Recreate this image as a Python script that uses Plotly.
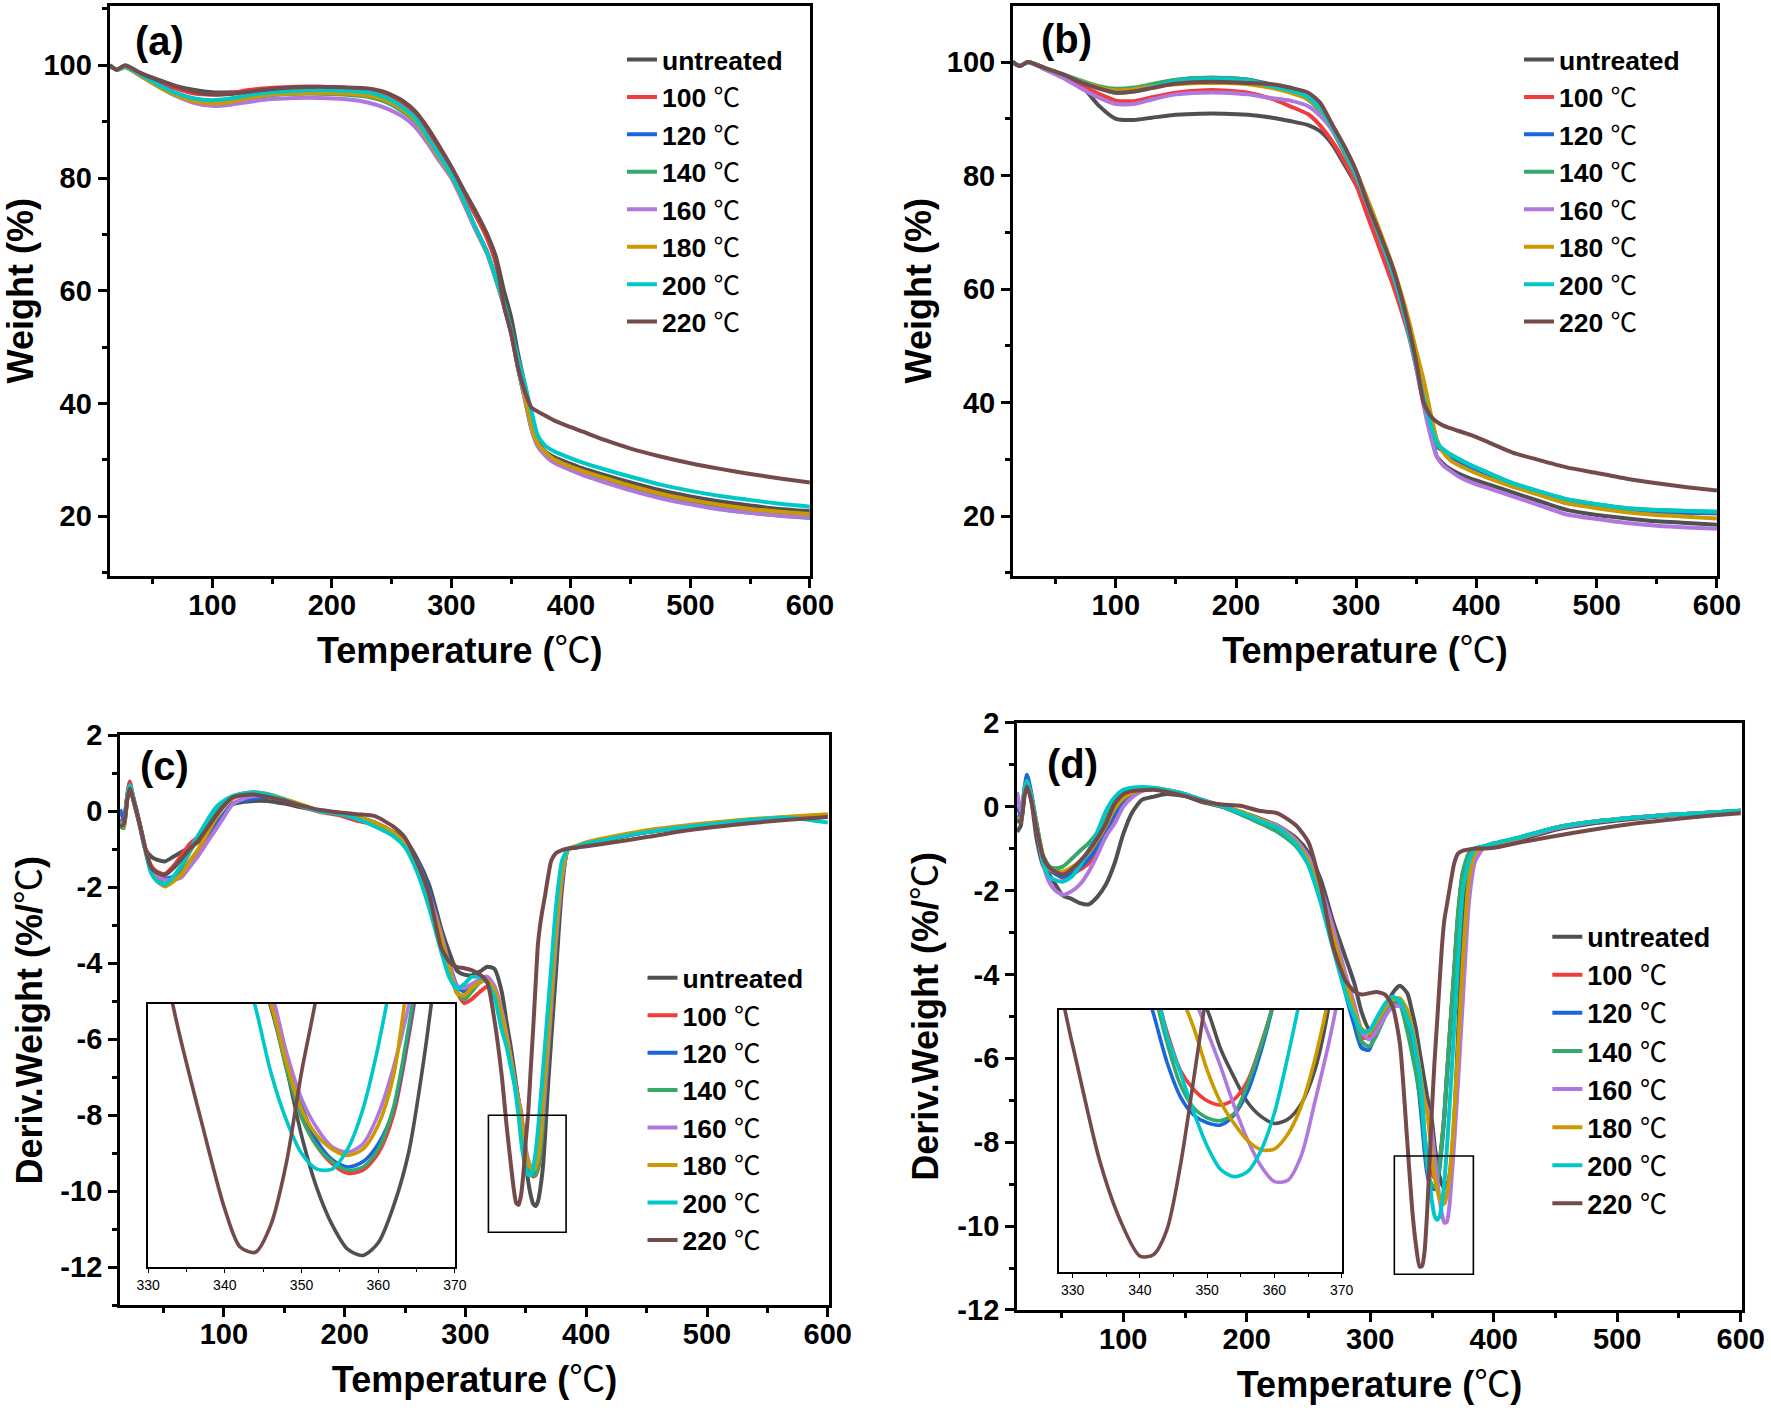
import plotly.graph_objects as go

# ---------------- data ----------------
SERIES = ["untreated", "100", "120", "140", "160", "180", "200", "220"]
COLORS = ["#505050", "#F03C3C", "#1A66DD", "#35A86A", "#B077DE", "#CC9900", "#00C8C8", "#744A4A"]

# TGA temperature grid (panels a, b)
T_TG = [14, 20, 27, 40, 55, 70, 85, 100, 115, 130, 150, 170, 190, 210, 230, 245, 260, 270, 280, 290,
        300, 310, 320, 330, 337, 344, 350, 356, 362, 367, 372, 378, 385, 395, 410, 430, 450, 475, 500,
        525, 550, 575, 600]

a_untreated = [100.0, 99.2, 99.9, 98.6, 97.4, 96.3, 95.6, 95.2, 95.2, 95.4, 95.7, 95.9, 96.0, 95.9, 95.6,
               94.8, 93.0, 91.0, 88.0, 85.0, 81.5, 77.5, 73.5, 69.6, 66.2, 60.0, 55.3, 48.6, 42.8, 37.5,
               33.8, 31.6, 30.6, 29.7, 28.5, 27.2, 26.0, 24.6, 23.5, 22.6, 21.9, 21.3, 20.9]
a_100 = [100.0, 99.2, 99.8, 98.4, 97.0, 95.8, 95.0, 94.8, 95.0, 95.6, 96.0, 96.2, 96.2, 96.0, 95.7,
         94.7, 92.7, 90.8, 87.6, 84.5, 81.3, 77.3, 73.5, 69.2, 65.0, 57.5, 52.6, 46.2, 40.5, 35.8,
         33.0, 31.5, 30.2, 29.2, 28.0, 26.6, 25.4, 24.0, 22.9, 22.0, 21.3, 20.7, 20.2]
a_120 = [100.0, 99.2, 99.7, 98.2, 96.5, 95.0, 94.0, 93.6, 93.8, 94.3, 94.8, 95.0, 95.0, 94.9, 94.5,
         93.6, 91.8, 90.0, 86.8, 83.5, 80.3, 76.0, 71.2, 66.8, 62.3, 57.5, 52.6, 46.2, 40.5, 35.8,
         33.0, 31.5, 30.2, 29.2, 27.9, 26.5, 25.2, 23.8, 22.7, 21.8, 21.1, 20.6, 20.2]
a_140 = [100.0, 99.2, 99.7, 98.2, 96.4, 94.9, 93.9, 93.5, 93.7, 94.2, 94.7, 95.0, 95.0, 94.8, 94.4,
         93.5, 91.7, 90.0, 86.7, 83.4, 80.2, 75.8, 71.0, 66.6, 62.2, 57.4, 52.5, 46.0, 40.3, 35.5,
         32.6, 31.0, 29.7, 28.7, 27.4, 26.0, 24.7, 23.3, 22.2, 21.3, 20.6, 20.1, 19.7]
a_160 = [100.0, 99.2, 99.7, 98.1, 96.2, 94.5, 93.3, 92.8, 93.0, 93.5, 94.0, 94.2, 94.2, 94.0, 93.4,
         92.4, 90.8, 89.0, 86.2, 83.0, 80.0, 75.6, 70.9, 66.5, 62.1, 57.3, 52.4, 46.0, 40.3, 35.5,
         32.5, 30.9, 29.6, 28.6, 27.3, 25.9, 24.6, 23.2, 22.1, 21.2, 20.6, 20.1, 19.8]
a_180 = [100.0, 99.2, 99.7, 98.1, 96.2, 94.6, 93.6, 93.2, 93.5, 94.2, 94.8, 95.0, 95.1, 95.0, 94.6,
         93.8, 92.0, 90.2, 86.9, 83.6, 80.3, 76.0, 71.2, 66.8, 62.3, 57.6, 52.7, 46.4, 40.8, 36.0,
         33.0, 31.5, 30.2, 29.2, 28.0, 26.7, 25.4, 24.0, 22.9, 22.0, 21.3, 20.8, 20.4]
a_200 = [100.0, 99.2, 99.8, 98.3, 96.5, 95.0, 94.1, 93.8, 94.1, 94.7, 95.2, 95.5, 95.6, 95.5, 95.2,
         94.3, 92.4, 90.6, 87.3, 84.0, 80.6, 76.2, 71.3, 66.8, 62.3, 57.8, 53.0, 47.8, 43.0, 38.6,
         34.5, 32.6, 31.6, 30.7, 29.5, 28.2, 27.0, 25.6, 24.5, 23.6, 22.9, 22.2, 21.7]
a_220 = [100.0, 99.2, 100.0, 98.6, 97.3, 96.2, 95.3, 94.8, 94.9, 95.3, 95.8, 96.1, 96.2, 96.1, 95.9,
         95.2, 93.6, 91.8, 89.0, 85.6, 82.0, 78.0, 74.2, 70.0, 66.0, 57.3, 52.5, 46.2, 41.8, 39.3,
         38.6, 37.9, 37.1, 36.2, 35.0, 33.4, 32.0, 30.6, 29.4, 28.4, 27.5, 26.7, 26.0]

b_untreated = [100.0, 99.3, 100.0, 99.0, 97.8, 96.2, 92.5, 90.0, 89.8, 90.2, 90.7, 90.9, 90.9, 90.7, 90.2,
               89.6, 88.9, 87.8, 85.5, 82.0, 78.3, 74.0, 68.0, 62.0, 57.5, 52.5, 47.0, 40.5, 34.5, 30.5,
               29.3, 28.3, 27.5, 26.6, 25.6, 24.2, 22.8, 21.1, 20.2, 19.6, 19.1, 18.8, 18.5]
b_100 = [100.0, 99.3, 100.0, 98.9, 97.6, 96.0, 94.5, 93.2, 93.1, 93.8, 94.6, 95.0, 95.0, 94.6, 93.5,
         92.2, 90.8, 88.8, 86.0, 82.5, 78.3, 72.5, 66.8, 61.0, 56.5, 51.5, 46.0, 40.0, 35.0, 32.5,
         31.5, 30.6, 29.6, 28.4, 26.9, 25.3, 24.0, 22.3, 21.6, 21.1, 20.8, 20.6, 20.5]
b_120 = [100.0, 99.3, 100.0, 99.0, 97.8, 96.6, 95.5, 95.0, 95.3, 96.0, 96.8, 97.2, 97.2, 96.9, 96.0,
         95.0, 93.4, 91.5, 88.2, 84.2, 79.8, 74.5, 68.9, 63.0, 58.0, 52.0, 46.5, 40.5, 35.0, 32.3,
         31.5, 30.6, 29.6, 28.4, 26.9, 25.3, 24.0, 22.3, 21.6, 21.1, 20.8, 20.6, 20.5]
b_140 = [100.0, 99.3, 100.0, 99.0, 97.9, 96.8, 95.8, 95.3, 95.5, 96.1, 96.9, 97.2, 97.2, 96.9, 95.8,
         94.8, 93.4, 91.3, 88.0, 84.0, 79.6, 74.3, 68.9, 63.0, 58.0, 52.0, 46.5, 40.5, 35.0, 32.5,
         31.8, 30.9, 30.1, 29.0, 27.6, 25.8, 24.5, 23.0, 22.1, 21.4, 21.1, 20.9, 20.7]
b_160 = [100.0, 99.3, 100.0, 98.8, 97.3, 95.5, 93.8, 92.6, 92.6, 93.4, 94.3, 94.6, 94.6, 94.3, 93.6,
         93.2, 92.2, 90.5, 88.0, 84.5, 80.0, 74.5, 68.9, 63.0, 58.0, 52.0, 46.0, 39.5, 34.0, 30.5,
         29.0, 28.0, 27.0, 26.0, 24.9, 23.5, 22.1, 20.3, 19.5, 18.8, 18.3, 18.0, 17.8]
b_180 = [100.0, 99.3, 100.0, 99.0, 97.9, 96.8, 95.6, 95.0, 95.2, 95.7, 96.1, 96.3, 96.3, 96.1, 95.4,
         94.6, 93.5, 91.6, 88.5, 84.8, 80.6, 75.5, 70.0, 64.2, 59.5, 54.2, 49.0, 44.0, 38.0, 33.5,
         31.3, 29.9, 29.0, 28.0, 26.7, 25.2, 23.9, 22.3, 21.4, 20.7, 20.2, 19.9, 19.6]
b_200 = [100.0, 99.3, 100.0, 99.0, 97.9, 96.7, 95.4, 94.6, 94.8, 95.5, 96.6, 97.0, 97.0, 96.7, 95.7,
         95.0, 93.8, 91.8, 88.5, 84.6, 80.2, 74.8, 69.0, 63.0, 58.0, 52.0, 46.5, 40.8, 36.0, 33.0,
         31.8, 30.9, 30.1, 29.0, 27.6, 25.8, 24.5, 23.0, 22.1, 21.4, 21.1, 20.9, 20.8]
b_220 = [100.0, 99.3, 100.0, 99.0, 97.9, 96.5, 95.4, 94.6, 94.8, 95.4, 96.2, 96.5, 96.5, 96.3, 96.1,
         95.5, 94.6, 92.8, 89.0, 85.2, 80.8, 74.7, 69.5, 64.0, 59.0, 53.0, 47.0, 40.0, 37.6, 36.6,
         36.0, 35.5, 35.0, 34.3, 33.0, 31.2, 30.0, 28.6, 27.6, 26.6, 25.8, 25.1, 24.5]

# DTG temperature grid (panels c, d)
T_DTG = [14, 17, 20, 22, 25, 30, 35, 40, 45, 51,
         58, 65, 72, 79, 86, 93, 100, 107, 115, 125,
         135, 150, 165, 180, 195, 210, 225, 240, 250, 260,
         270, 280, 287, 293, 299, 305, 312, 318, 324, 330,
         334, 337, 340, 342, 344, 346, 348, 350, 352, 354,
         356, 358, 360, 362, 364, 366, 368, 371, 375, 380,
         385, 392, 400, 420, 450, 480, 510, 540, 570, 600]

c_untreated = [-0.35, -0.3, 0.35, 0.65, 0.3, -0.35, -1.0, -1.2, -1.28, -1.32,
               -1.2, -1.07, -0.95, -0.8, -0.6, -0.36, -0.08, 0.18, 0.24, 0.27,
               0.27, 0.2, 0.1, 0.02, -0.05, -0.15, -0.3, -0.55, -0.75, -1.25,
               -1.95, -3.1, -3.75, -4.2, -4.3, -4.32, -4.22, -4.09, -4.15, -4.75,
               -5.55, -6.1, -6.75, -7.2, -7.62, -8.03, -8.6, -9.25, -9.75, -10.1,
               -10.33, -10.39, -10.27, -9.92, -9.4, -8.5, -7.4, -6.0, -4.2, -2.0,
               -1.0, -0.95, -0.88, -0.74, -0.55, -0.42, -0.32, -0.24, -0.17, -0.1]
c_100 = [-0.2, -0.3, 0.45, 0.78, 0.35, -0.3, -1.0, -1.45, -1.6, -1.65,
         -1.45, -1.15, -0.85, -0.67, -0.4, -0.1, 0.15, 0.34, 0.42, 0.45,
         0.43, 0.3, 0.12, -0.02, -0.1, -0.25, -0.35, -0.55, -0.85, -1.45,
         -2.25, -3.35, -4.15, -4.75, -5.05, -4.95, -4.75, -4.62, -4.85, -5.45,
         -6.0, -6.5, -7.02, -7.35, -7.68, -7.98, -8.55, -9.05, -9.35, -9.52,
         -9.61, -9.58, -9.42, -9.05, -8.3, -7.4, -6.55, -5.25, -3.5, -1.8,
         -1.0, -0.93, -0.85, -0.72, -0.55, -0.42, -0.32, -0.22, -0.17, -0.1]
c_120 = [0.05, -0.2, 0.4, 0.7, 0.35, -0.3, -1.0, -1.55, -1.72, -1.78,
         -1.72, -1.6, -1.3, -1.07, -0.72, -0.4, -0.08, 0.2, 0.28, 0.33,
         0.38, 0.3, 0.14, 0.0, -0.05, -0.15, -0.3, -0.55, -0.8, -1.3,
         -2.1, -3.25, -4.05, -4.6, -4.75, -4.6, -4.45, -4.4, -4.65, -5.3,
         -5.9, -6.4, -6.95, -7.3, -7.62, -7.95, -8.5, -8.97, -9.3, -9.48,
         -9.55, -9.5, -9.33, -9.0, -8.25, -7.35, -6.5, -5.2, -3.45, -1.75,
         -1.0, -0.93, -0.85, -0.72, -0.55, -0.42, -0.32, -0.22, -0.17, -0.1]
c_140 = [-0.4, -0.45, 0.4, 0.68, 0.35, -0.3, -1.0, -1.6, -1.8, -1.9,
         -1.75, -1.45, -1.05, -0.7, -0.35, -0.05, 0.2, 0.38, 0.46, 0.5,
         0.46, 0.32, 0.15, 0.0, -0.05, -0.2, -0.38, -0.6, -0.9, -1.45,
         -2.3, -3.35, -4.2, -4.75, -4.95, -4.75, -4.5, -4.4, -4.7, -5.35,
         -5.95, -6.45, -7.0, -7.35, -7.68, -8.0, -8.61, -9.08, -9.35, -9.5,
         -9.58, -9.55, -9.38, -8.98, -8.2, -7.3, -6.45, -5.15, -3.4, -1.75,
         -1.0, -0.93, -0.85, -0.72, -0.55, -0.42, -0.32, -0.22, -0.17, -0.1]
c_160 = [-0.3, -0.35, 0.4, 0.68, 0.35, -0.3, -1.0, -1.55, -1.72, -1.8,
         -1.8, -1.73, -1.45, -1.16, -0.82, -0.49, -0.15, 0.18, 0.32, 0.4,
         0.42, 0.3, 0.15, 0.0, -0.05, -0.17, -0.32, -0.58, -0.85, -1.35,
         -2.2, -3.25, -4.1, -4.62, -4.65, -4.55, -4.42, -4.35, -4.6, -5.25,
         -5.85, -6.4, -6.95, -7.3, -7.62, -7.88, -8.45, -8.9, -9.18, -9.36,
         -9.41, -9.33, -9.05, -8.6, -8.0, -7.1, -6.3, -5.0, -3.3, -1.7,
         -1.0, -0.92, -0.83, -0.7, -0.53, -0.4, -0.3, -0.21, -0.15, -0.1]
c_180 = [-0.35, -0.4, 0.4, 0.65, 0.3, -0.3, -1.0, -1.6, -1.85, -1.98,
         -1.85, -1.65, -1.3, -0.98, -0.6, -0.2, 0.12, 0.33, 0.44, 0.49,
         0.45, 0.32, 0.17, 0.0, -0.03, -0.15, -0.3, -0.55, -0.85, -1.45,
         -2.3, -3.35, -4.15, -4.8, -4.85, -4.65, -4.5, -4.45, -4.7, -5.35,
         -5.95, -6.45, -7.0, -7.35, -7.68, -8.0, -8.55, -9.0, -9.25, -9.38,
         -9.44, -9.38, -9.15, -8.68, -7.7, -6.9, -6.1, -4.85, -3.1, -1.6,
         -1.0, -0.91, -0.82, -0.68, -0.5, -0.38, -0.28, -0.2, -0.14, -0.08]
c_200 = [-0.3, -0.35, 0.4, 0.68, 0.35, -0.3, -1.05, -1.65, -1.85, -1.93,
         -1.72, -1.4, -1.0, -0.62, -0.25, 0.09, 0.28, 0.4, 0.46, 0.49,
         0.45, 0.3, 0.13, 0.0, -0.07, -0.2, -0.4, -0.65, -0.95, -1.6,
         -2.55, -3.7, -4.4, -4.67, -4.55, -4.36, -4.36, -4.5, -4.9, -5.75,
         -6.2, -6.65, -7.1, -7.52, -8.03, -8.65, -9.1, -9.42, -9.57, -9.57,
         -9.38, -9.0, -8.4, -7.65, -6.9, -6.1, -5.3, -4.1, -2.5, -1.3,
         -1.0, -0.93, -0.85, -0.72, -0.55, -0.42, -0.32, -0.22, -0.17, -0.3]
c_220 = [-0.4, -0.35, 0.3, 0.6, 0.3, -0.3, -1.0, -1.5, -1.62, -1.68,
         -1.5, -1.25, -0.98, -0.76, -0.45, -0.13, 0.15, 0.36, 0.42, 0.44,
         0.38, 0.28, 0.14, 0.03, -0.03, -0.08, -0.13, -0.4, -0.7, -1.35,
         -2.2, -3.6, -3.98, -4.1, -4.13, -4.18, -4.3, -4.5, -5.5, -6.95,
         -8.26, -9.13, -9.95, -10.31, -10.36, -10.1, -9.52, -8.65, -7.9, -6.8,
         -5.75, -4.6, -3.5, -2.95, -2.55, -2.2, -1.8, -1.3, -1.1, -1.02,
         -0.98, -0.96, -0.92, -0.83, -0.68, -0.52, -0.4, -0.3, -0.22, -0.15]

d_untreated = [-0.6, -0.45, 0.3, 0.55, 0.25, -0.8, -1.4, -1.62, -1.85, -2.12,
               -2.2, -2.3, -2.33, -2.15, -1.85, -1.35, -0.65, -0.15, 0.16, 0.24,
               0.3, 0.25, 0.1, 0.0, -0.12, -0.28, -0.45, -0.75, -1.1, -1.75,
               -2.75, -3.6, -4.2, -4.9, -5.3, -5.2, -4.85, -4.45, -4.27, -4.45,
               -4.9, -5.3, -5.85, -6.2, -6.55, -6.9, -7.2, -7.5, -8.05, -8.45,
               -8.8, -9.0, -9.1, -9.04, -8.82, -8.35, -7.5, -5.5, -2.9, -1.4,
               -1.05, -0.98, -0.92, -0.8, -0.55, -0.4, -0.3, -0.22, -0.16, -0.11]
d_100 = [-0.2, -0.35, 0.35, 0.6, 0.3, -0.5, -1.25, -1.5, -1.6, -1.7,
         -1.62, -1.5, -1.35, -1.05, -0.7, -0.3, 0.05, 0.3, 0.39, 0.42,
         0.4, 0.3, 0.15, 0.02, -0.15, -0.35, -0.58, -0.9, -1.3, -2.15,
         -3.1, -4.35, -5.0, -5.5, -5.5, -5.15, -4.8, -4.62, -4.65, -5.1,
         -5.7, -6.2, -6.75, -7.15, -7.8, -8.35, -8.62, -8.78, -8.84, -8.76,
         -8.5, -7.98, -7.35, -6.45, -5.6, -4.75, -3.95, -2.65, -1.6, -1.15,
         -1.0, -0.95, -0.9, -0.76, -0.5, -0.36, -0.27, -0.2, -0.15, -0.1]
d_120 = [0.0, -0.2, 0.45, 0.76, 0.4, -0.45, -1.2, -1.5, -1.6, -1.67,
         -1.6, -1.45, -1.25, -0.95, -0.55, -0.2, 0.12, 0.32, 0.39, 0.42,
         0.38, 0.28, 0.13, 0.0, -0.18, -0.38, -0.6, -0.92, -1.35, -2.2,
         -3.15, -4.45, -5.2, -5.75, -5.8, -5.3, -4.85, -4.65, -4.7, -5.2,
         -5.75, -6.25, -6.95, -7.55, -8.23, -8.72, -8.98, -9.09, -9.12, -8.98,
         -8.65, -8.08, -7.35, -6.45, -5.6, -4.75, -3.95, -2.65, -1.6, -1.15,
         -1.0, -0.95, -0.88, -0.74, -0.5, -0.36, -0.27, -0.2, -0.15, -0.1]
d_140 = [-0.3, -0.35, 0.4, 0.62, 0.3, -0.45, -1.15, -1.42, -1.47, -1.43,
         -1.25, -1.05, -0.87, -0.62, -0.28, 0.1, 0.28, 0.36, 0.39, 0.42,
         0.38, 0.28, 0.12, 0.0, -0.18, -0.38, -0.6, -0.95, -1.4, -2.25,
         -3.2, -4.2, -4.9, -5.6, -5.72, -5.45, -5.0, -4.62, -4.72, -5.35,
         -5.9, -6.35, -6.85, -7.25, -7.95, -8.55, -8.88, -9.02, -9.06, -8.96,
         -8.55, -8.0, -7.35, -6.45, -5.55, -4.7, -3.85, -2.55, -1.55, -1.1,
         -1.0, -0.95, -0.88, -0.74, -0.5, -0.36, -0.27, -0.2, -0.15, -0.1]
d_160 = [0.35, -0.1, 0.35, 0.55, 0.25, -0.55, -1.35, -1.8, -2.0, -2.1,
         -2.02, -1.85, -1.55, -1.15, -0.7, -0.4, 0.0, 0.22, 0.37, 0.42,
         0.4, 0.3, 0.15, 0.02, -0.13, -0.3, -0.45, -0.8, -1.2, -1.95,
         -2.9, -4.0, -4.7, -5.35, -5.55, -5.35, -5.0, -4.78, -4.75, -4.9,
         -5.3, -5.75, -6.3, -6.7, -7.0, -7.2, -7.35, -7.8, -8.3, -8.85,
         -9.33, -9.7, -9.92, -9.9, -9.55, -8.8, -8.0, -6.6, -4.6, -2.25,
         -1.3, -0.98, -0.9, -0.76, -0.52, -0.37, -0.27, -0.2, -0.15, -0.1]
d_180 = [-0.25, -0.35, 0.4, 0.62, 0.3, -0.45, -1.2, -1.48, -1.55, -1.55,
         -1.45, -1.3, -1.1, -0.8, -0.45, -0.05, 0.2, 0.33, 0.39, 0.42,
         0.38, 0.28, 0.13, 0.02, -0.12, -0.3, -0.49, -0.85, -1.3, -2.15,
         -3.1, -4.15, -4.85, -5.3, -5.4, -5.15, -4.8, -4.6, -4.57, -4.85,
         -5.3, -5.75, -6.3, -6.7, -7.05, -7.3, -7.75, -8.35, -8.8, -9.1,
         -9.34, -9.47, -9.46, -9.25, -8.85, -8.2, -7.35, -5.8, -3.7, -1.7,
         -1.1, -0.97, -0.9, -0.75, -0.5, -0.36, -0.27, -0.2, -0.15, -0.1]
d_200 = [-0.3, -0.3, 0.4, 0.62, 0.3, -0.5, -1.3, -1.68, -1.75, -1.79,
         -1.68, -1.4, -1.05, -0.6, -0.1, 0.22, 0.4, 0.45, 0.47, 0.45,
         0.4, 0.3, 0.15, 0.02, -0.15, -0.33, -0.5, -0.9, -1.4, -2.3,
         -3.4, -4.45, -5.0, -5.35, -5.35, -5.05, -4.7, -4.53, -4.62, -5.05,
         -5.4, -5.9, -6.4, -7.0, -7.85, -8.38, -8.94, -9.42, -9.75, -9.85,
         -9.78, -9.48, -8.95, -8.15, -7.25, -6.25, -5.25, -3.75, -2.0, -1.3,
         -1.0, -0.95, -0.88, -0.74, -0.5, -0.36, -0.27, -0.2, -0.15, -0.1]
d_220 = [-0.35, -0.35, 0.25, 0.48, 0.2, -0.55, -1.2, -1.45, -1.55, -1.62,
         -1.5, -1.3, -1.05, -0.75, -0.4, 0.07, 0.3, 0.37, 0.39, 0.4,
         0.35, 0.25, 0.12, 0.05, 0.02, -0.1, -0.16, -0.45, -0.85, -1.9,
         -3.35, -4.15, -4.4, -4.48, -4.45, -4.42, -4.48, -4.75, -5.65, -8.0,
         -9.62, -10.45, -10.97, -10.95, -10.6, -9.7, -8.47, -7.2, -6.1, -5.2,
         -4.25, -3.35, -2.7, -2.35, -2.0, -1.65, -1.35, -1.12, -1.05, -1.02,
         -1.0, -1.0, -0.98, -0.86, -0.7, -0.55, -0.42, -0.32, -0.23, -0.16]

PANEL_A = [a_untreated, a_100, a_120, a_140, a_160, a_180, a_200, a_220]
PANEL_B = [b_untreated, b_100, b_120, b_140, b_160, b_180, b_200, b_220]
PANEL_C = [c_untreated, c_100, c_120, c_140, c_160, c_180, c_200, c_220]
PANEL_D = [d_untreated, d_100, d_120, d_140, d_160, d_180, d_200, d_220]
for arr in PANEL_A + PANEL_B:
    assert len(arr) == len(T_TG), len(arr)
for arr in PANEL_C + PANEL_D:
    assert len(arr) == len(T_DTG), len(arr)

# DTG y tick labels (plain hyphen minus, as in the original)
DTG_TICKS = [-12, -10, -8, -6, -4, -2, 0, 2]
DTG_TICKTEXT = ["-12", "-10", "-8", "-6", "-4", "-2", "0", "2"]

ZOOM_BOX_C = (319.0, 383.3, -11.08, -8.0)
ZOOM_BOX_D = (319.5, 383.5, -11.15, -8.33)

# ---------------- style ----------------
FONT = "Liberation Sans, Arial, sans-serif"
DEG = '<span style="font-family:Noto Sans CJK SC">℃</span>'


def label(s):
    return "<b>untreated</b>" if s == "untreated" else f"<b>{s}</b> {DEG}"


fig = go.Figure()

panels = [
    ("x", "y", T_TG, PANEL_A, "legend"),
    ("x2", "y2", T_TG, PANEL_B, "legend2"),
    ("x3", "y3", T_DTG, PANEL_C, "legend3"),
    ("x4", "y4", T_DTG, PANEL_D, "legend4"),
]
for xa, ya, T, data, leg in panels:
    for name, col, vals in zip(SERIES, COLORS, data):
        fig.add_trace(go.Scatter(
            x=T, y=vals, mode="lines", name=label(name), legend=leg,
            line=dict(color=col, width=4, shape="spline", smoothing=0.6),
            xaxis=xa, yaxis=ya, hoverinfo="skip"))

for xa, ya, data in [("x5", "y5", PANEL_C), ("x6", "y6", PANEL_D)]:
    for name, col, vals in zip(SERIES, COLORS, data):
        fig.add_trace(go.Scatter(
            x=T_DTG, y=vals, mode="lines", showlegend=False,
            line=dict(color=col, width=3.6, shape="spline", smoothing=0.8),
            xaxis=xa, yaxis=ya, hoverinfo="skip"))

TICKFONT = dict(family=FONT, size=29, color="black", weight="bold")


def main_ax(domain, rng, dtick, mdtick, title, anchor, standoff, lblshift, tickvals=None, ticktext=None):
    ax = dict(domain=domain, range=rng, anchor=anchor, automargin=False, showline=True,
              linecolor="black", linewidth=3, mirror=True, ticks="outside", ticklen=9,
              tickwidth=2.5, tickcolor="black", showgrid=False, zeroline=False,
              tickfont=TICKFONT, ticklabelstandoff=lblshift,
              minor=dict(ticks="outside", ticklen=5, tickwidth=2.5, tickcolor="black",
                         tickmode="linear", dtick=mdtick, tick0=0, showgrid=False),
              title=dict(text=title, font=dict(family=FONT, size=36, color="black"),
                         standoff=standoff))
    if tickvals is not None:
        ax.update(tickmode="array", tickvals=tickvals, ticktext=ticktext)
    else:
        ax.update(tick0=0, dtick=dtick)
    return ax


def inset_x(domain, rng, anchor):
    return dict(domain=domain, range=rng, anchor=anchor, automargin=False, showline=True,
                linecolor="black", linewidth=1.6, mirror=True, ticks="outside", ticklen=4,
                tickwidth=1.3, tickcolor="black", showgrid=False, zeroline=False, tick0=0,
                dtick=10, tickfont=dict(family=FONT, size=14, color="black"),
                minor=dict(ticks="outside", ticklen=3, tickwidth=1.3, tickcolor="black",
                           dtick=5, tick0=0, showgrid=False))


def inset_y(domain, rng, anchor):
    return dict(domain=domain, range=rng, anchor=anchor, automargin=False, showline=True,
                linecolor="black", linewidth=1.6, mirror=True, ticks="",
                showticklabels=False, showgrid=False, zeroline=False)


XT = "<b>Temperature (</b>" + DEG + "<b>)</b>"
WT = "<b>Weight (%)</b>"
DT = "<b>Deriv.Weight (%/</b>" + DEG + "<b>)</b>"


def legend_at(x, y, size):
    return dict(x=x, y=y, xanchor="left", yanchor="top", bgcolor="rgba(0,0,0,0)",
                borderwidth=0, tracegroupgap=0, traceorder="normal",
                font=dict(family=FONT, size=size, color="black"))


fig.update_layout(
    width=1771, height=1418, margin=dict(l=0, r=0, t=0, b=0, autoexpand=False),
    paper_bgcolor="white", plot_bgcolor="white",
    font=dict(family=FONT, color="black"),
    xaxis=main_ax([0.0619, 0.4573], [14, 600], 100, 50, XT, "y", 12, -8),
    yaxis=main_ax([0.5938, 0.9961], [9.4, 110.6], 20, 10, WT, "x", 5, 0),
    xaxis2=main_ax([0.5720, 0.9695], [14.5, 600], 100, 50, XT, "y2", 12, -8),
    yaxis2=main_ax([0.5938, 0.9961], [9.46, 109.95], 20, 10, WT, "x2", 5, 0),
    xaxis3=main_ax([0.0678, 0.4681], [14, 601], 100, 50, XT, "y3", 12, -8),
    yaxis3=main_ax([0.0795, 0.4815], [-13, 2], 2, 1, DT, "x3", 18, 0, DTG_TICKS, DTG_TICKTEXT),
    xaxis4=main_ax([0.5743, 0.9836], [14, 601], 100, 50, XT, "y4", 12, -8),
    yaxis4=main_ax([0.0762, 0.4903], [-12, 2], 2, 1, DT, "x4", 8, 0, DTG_TICKS, DTG_TICKTEXT),
    xaxis5=inset_x([0.0836, 0.2569], [330, 370], "y5"),
    yaxis5=inset_y([0.1065, 0.2920], [-10.5, -8.0], "x5"),
    xaxis6=inset_x([0.5981, 0.7576], [328, 370], "y6"),
    yaxis6=inset_y([0.1027, 0.2877], [-11.2, -7.5], "x6"),
    legend=legend_at(0.3512, 0.9748, 26.5),
    legend2=legend_at(0.8577, 0.9748, 26.5),
    legend3=legend_at(0.3628, 0.3272, 26.5),
    legend4=legend_at(0.8737, 0.3564, 27),
    showlegend=True,
)

for (x0, x1, y0, y1), xr, yr in [(ZOOM_BOX_C, "x3", "y3"), (ZOOM_BOX_D, "x4", "y4")]:
    fig.add_shape(type="rect", x0=x0, x1=x1, y0=y0, y1=y1, xref=xr, yref=yr,
                  line=dict(color="black", width=1.6), fillcolor="rgba(0,0,0,0)")

for txt, x, y in [("(a)", 0.0752, 0.9711), ("(b)", 0.5867, 0.9725),
                  ("(c)", 0.0777, 0.4598), ("(d)", 0.5899, 0.4612)]:
    fig.add_annotation(text=f"<b>{txt}</b>", x=x, y=y, xref="paper", yref="paper",
                       xanchor="left", yanchor="middle", showarrow=False,
                       font=dict(family=FONT, size=40, color="black"))

fig.write_html("out.html", config={"displayModeBar": False},
               post_script="document.body.style.margin='0px';document.body.style.overflow='hidden';")
